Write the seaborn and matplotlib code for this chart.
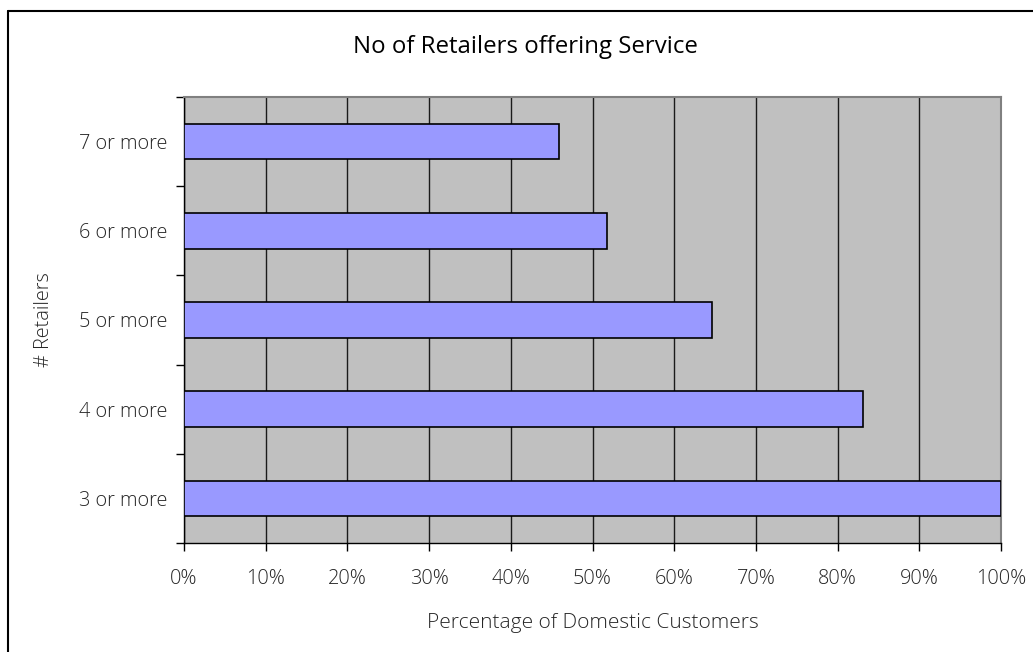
import matplotlib
matplotlib.use("Agg")
import matplotlib.pyplot as plt
import seaborn as sns
import pandas as pd
from matplotlib.ticker import FixedLocator, PercentFormatter
from matplotlib.lines import Line2D

categories = ["7 or more", "6 or more", "5 or more", "4 or more", "3 or more"]
values = [0.459, 0.518, 0.646, 0.831, 1.0]
xticks = [i / 10 for i in range(11)]

title = "No of Retailers offering Service"
xlabel = "Percentage of Domestic Customers"
ylabel = "# Retailers"

sns.set_theme(style="white")
plt.rcParams["font.family"] = ["Open Sans", "DejaVu Sans"]

df = pd.DataFrame({"cat": categories, "val": values})

fig = plt.figure(figsize=(10.33, 6.52), dpi=100)
ax = fig.add_axes([184 / 1033, 1 - 543 / 652, (1001 - 184) / 1033, (543 - 97) / 652])
ax.set_facecolor("#C0C0C0")

sns.barplot(data=df, x="val", y="cat", orient="h", order=categories, width=0.4,
            color="#9999FF", edgecolor="black", linewidth=1.2, saturation=1, ax=ax, zorder=3)

ax.set_xlim(0, 1)
ax.set_ylim(4.5, -0.5)
ax.set_xticks(xticks)
ax.xaxis.set_major_formatter(PercentFormatter(1.0, decimals=0))
ax.grid(axis="x", color="#1a1a1a", linewidth=1.0, zorder=0)
ax.grid(axis="y", visible=False)
ax.set_axisbelow(True)

txt_color = "#262626"
ax.tick_params(axis="x", which="major", direction="out", length=6, width=1, color="black",
               pad=13, bottom=True)
ax.tick_params(axis="y", which="major", length=0, pad=12)
ax.yaxis.set_minor_locator(FixedLocator([-0.5, 0.5, 1.5, 2.5, 3.5, 4.5]))
ax.tick_params(axis="y", which="minor", direction="out", length=6, width=1, color="black", left=True)
for lab in ax.get_xticklabels() + ax.get_yticklabels():
    lab.set_fontsize(14.3)
    lab.set_color(txt_color)
    lab.set_fontweight("light")

for side in ["left", "bottom"]:
    ax.spines[side].set_color("black")
    ax.spines[side].set_linewidth(1)
for side in ["top", "right"]:
    ax.spines[side].set_color("#808080")
    ax.spines[side].set_linewidth(1.5)

ax.set_xlabel(xlabel, fontsize=15, color=txt_color, weight="light", labelpad=17)
ax.set_ylabel(ylabel, fontsize=14.3, color=txt_color, weight="light", labelpad=18)

fig.text(525 / 1033, 1 - 47 / 652, title, ha="center", va="center", fontsize=17.3, color="black")

# outer chart frame
fig.add_artist(Line2D([8 / 1033, 8 / 1033], [0, 1 - 11 / 652], color="black", lw=1.5,
                      transform=fig.transFigure))
fig.add_artist(Line2D([8 / 1033, 1], [1 - 11 / 652, 1 - 11 / 652], color="black", lw=1.5,
                      transform=fig.transFigure))

fig.savefig("out.png", dpi=100)
